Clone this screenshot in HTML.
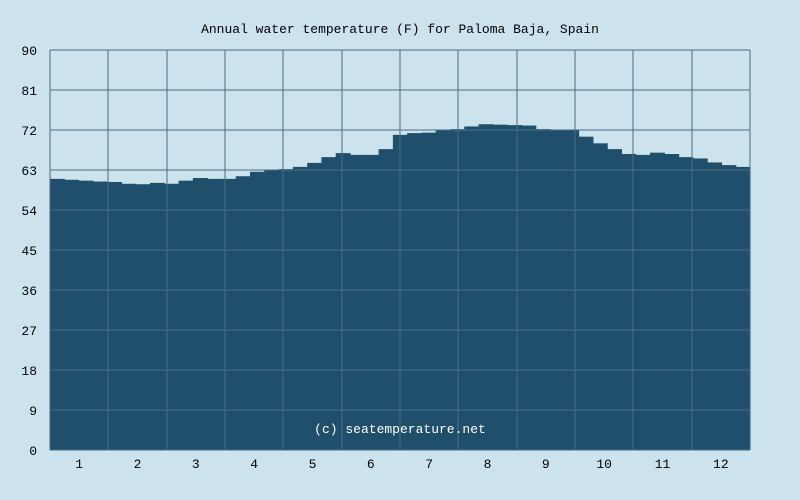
<!DOCTYPE html>
<html><head><meta charset="utf-8"><style>
html,body{margin:0;padding:0;background:#cce3ee;}
svg{display:block;font-family:"Liberation Mono","DejaVu Sans Mono",monospace;}
</style></head><body>
<svg id="chart" width="800" height="500" viewBox="0 0 800 500">
<rect x="0" y="0" width="800" height="500" fill="#cce3ee"/>
<text x="400" y="33" text-anchor="middle" font-size="13" fill="#000">Annual water temperature (F) for Paloma Baja, Spain</text>
<g id="area"></g>
<g id="grid"></g>
<g id="yticks"></g>
<g id="xticks"></g>
<text x="400" y="433" text-anchor="middle" font-size="13" fill="#ffffff">(c) seatemperature.net</text>
</svg>
<script>
const temps = [61.0,60.8,60.6,60.4,60.3,59.9,59.8,60.1,59.9,60.6,61.2,61.0,61.0,61.6,62.6,63.0,63.2,63.7,64.6,65.9,66.8,66.4,66.4,67.7,70.9,71.3,71.4,71.9,72.2,72.8,73.3,73.2,73.1,73.0,72.2,72.0,72.0,70.5,69.0,67.7,66.6,66.4,66.9,66.6,65.9,65.6,64.7,64.1,63.7];
const yTickLabels = ["0","9","18","27","36","45","54","63","72","81","90"];
const monthLabels = ["1","2","3","4","5","6","7","8","9","10","11","12"];
const X0=50,X1=750,Y0=450,Y1=50,YMAX=90;
const ns="http://www.w3.org/2000/svg";
const yScale=v=>Y0-(v/YMAX)*(Y0-Y1);
const xScale=f=>X0+f*(X1-X0);
function mk(tag,attrs){const e=document.createElementNS(ns,tag);for(const k in attrs)e.setAttribute(k,attrs[k]);return e;}
const area=document.getElementById('area');
const w=(X1-X0)/temps.length;
temps.forEach((t,i)=>{
  const x=xScale(i/temps.length), y=yScale(t);
  const r=mk('rect',{x:x,y:y,width:w+0.6,height:Y0-y,fill:'#1f4f6b'});
  
  
  area.appendChild(r);
});
const grid=document.getElementById('grid'), yt=document.getElementById('yticks'), xt=document.getElementById('xticks');
yTickLabels.forEach((lab,i)=>{
  const v=i*9, y=yScale(v);
  const l=mk('line',{x1:X0,x2:X1,y1:y,y2:y,stroke:'#4a6e88','stroke-width':1});
  
  
  grid.appendChild(l);
  const t=mk('text',{x:37,y:y+5,'text-anchor':'end','font-size':13,fill:'#000'});
  
  
  t.textContent=lab;yt.appendChild(t);
});
for(let i=0;i<=12;i++){
  const x=Math.round(xScale(i/12));
  const l=mk('line',{x1:x,x2:x,y1:Y1,y2:Y0,stroke:'#4a6e88','stroke-width':1});
  
  
  grid.appendChild(l);
}
monthLabels.forEach((lab,i)=>{
  const x=xScale((i+0.5)/12);
  const t=mk('text',{x:x,y:468,'text-anchor':'middle','font-size':13,fill:'#000'});
  
  
  t.textContent=lab;xt.appendChild(t);
});
</script>
</body></html>
